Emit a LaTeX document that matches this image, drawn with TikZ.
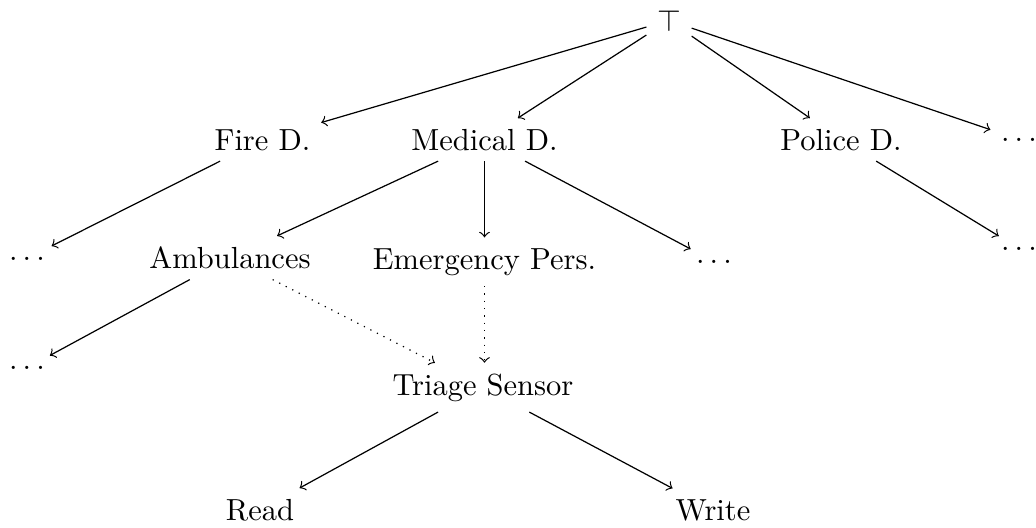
\documentclass[tikz,border=0pt]{standalone}
\begin{document}
\begin{tikzpicture}[x=0.3279pt,y=-0.3279pt,
  lbl/.style={anchor=base},
  arr/.style={->},
  darr/.style={->,dotted}]
\useasboundingbox (0,0) rectangle (1036,527);
% level 0
\node[lbl] (top) at (669,31) {$\top$};
% level 1
\node[lbl] (fire) at (262.5,150) {Fire D.};
\node[lbl] (med) at (484.5,150) {Medical D.};
\node[lbl] (pol) at (841,150) {Police D.};
\node[lbl] (dtr) at (1019,141) {$\ldots$};
% level 2
\node[lbl] (dl2) at (27,260) {$\ldots$};
\node[lbl] (amb) at (230,268.5) {Ambulances};
\node[lbl] (emg) at (484.5,269) {Emergency Pers.};
\node[lbl] (dm2) at (714,263) {$\ldots$};
\node[lbl] (dr2) at (1019,250) {$\ldots$};
% level 3
\node[lbl] (dl3) at (27,369.5) {$\ldots$};
\node[lbl] (tri) at (483,395) {Triage Sensor};
% level 4
\node[lbl] (read) at (260,520) {Read};
\node[lbl] (write) at (713,520) {Write};
% edges
\draw[arr] (top) -- (fire);
\draw[arr] (top) -- (med);
\draw[arr] (top) -- (pol);
\draw[arr] (top) -- (dtr);
\draw[arr] (fire) -- (dl2);
\draw[arr] (med) -- (amb);
\draw[arr] (med) -- (emg);
\draw[arr] (med) -- (dm2);
\draw[arr] (pol) -- (dr2);
\draw[arr] (amb) -- (dl3);
\draw[darr] (amb) -- (tri);
\draw[darr] (emg.south -| med) -- (tri.north -| med);
\draw[arr] (tri) -- (read);
\draw[arr] (tri) -- (write);
\end{tikzpicture}
\end{document}
